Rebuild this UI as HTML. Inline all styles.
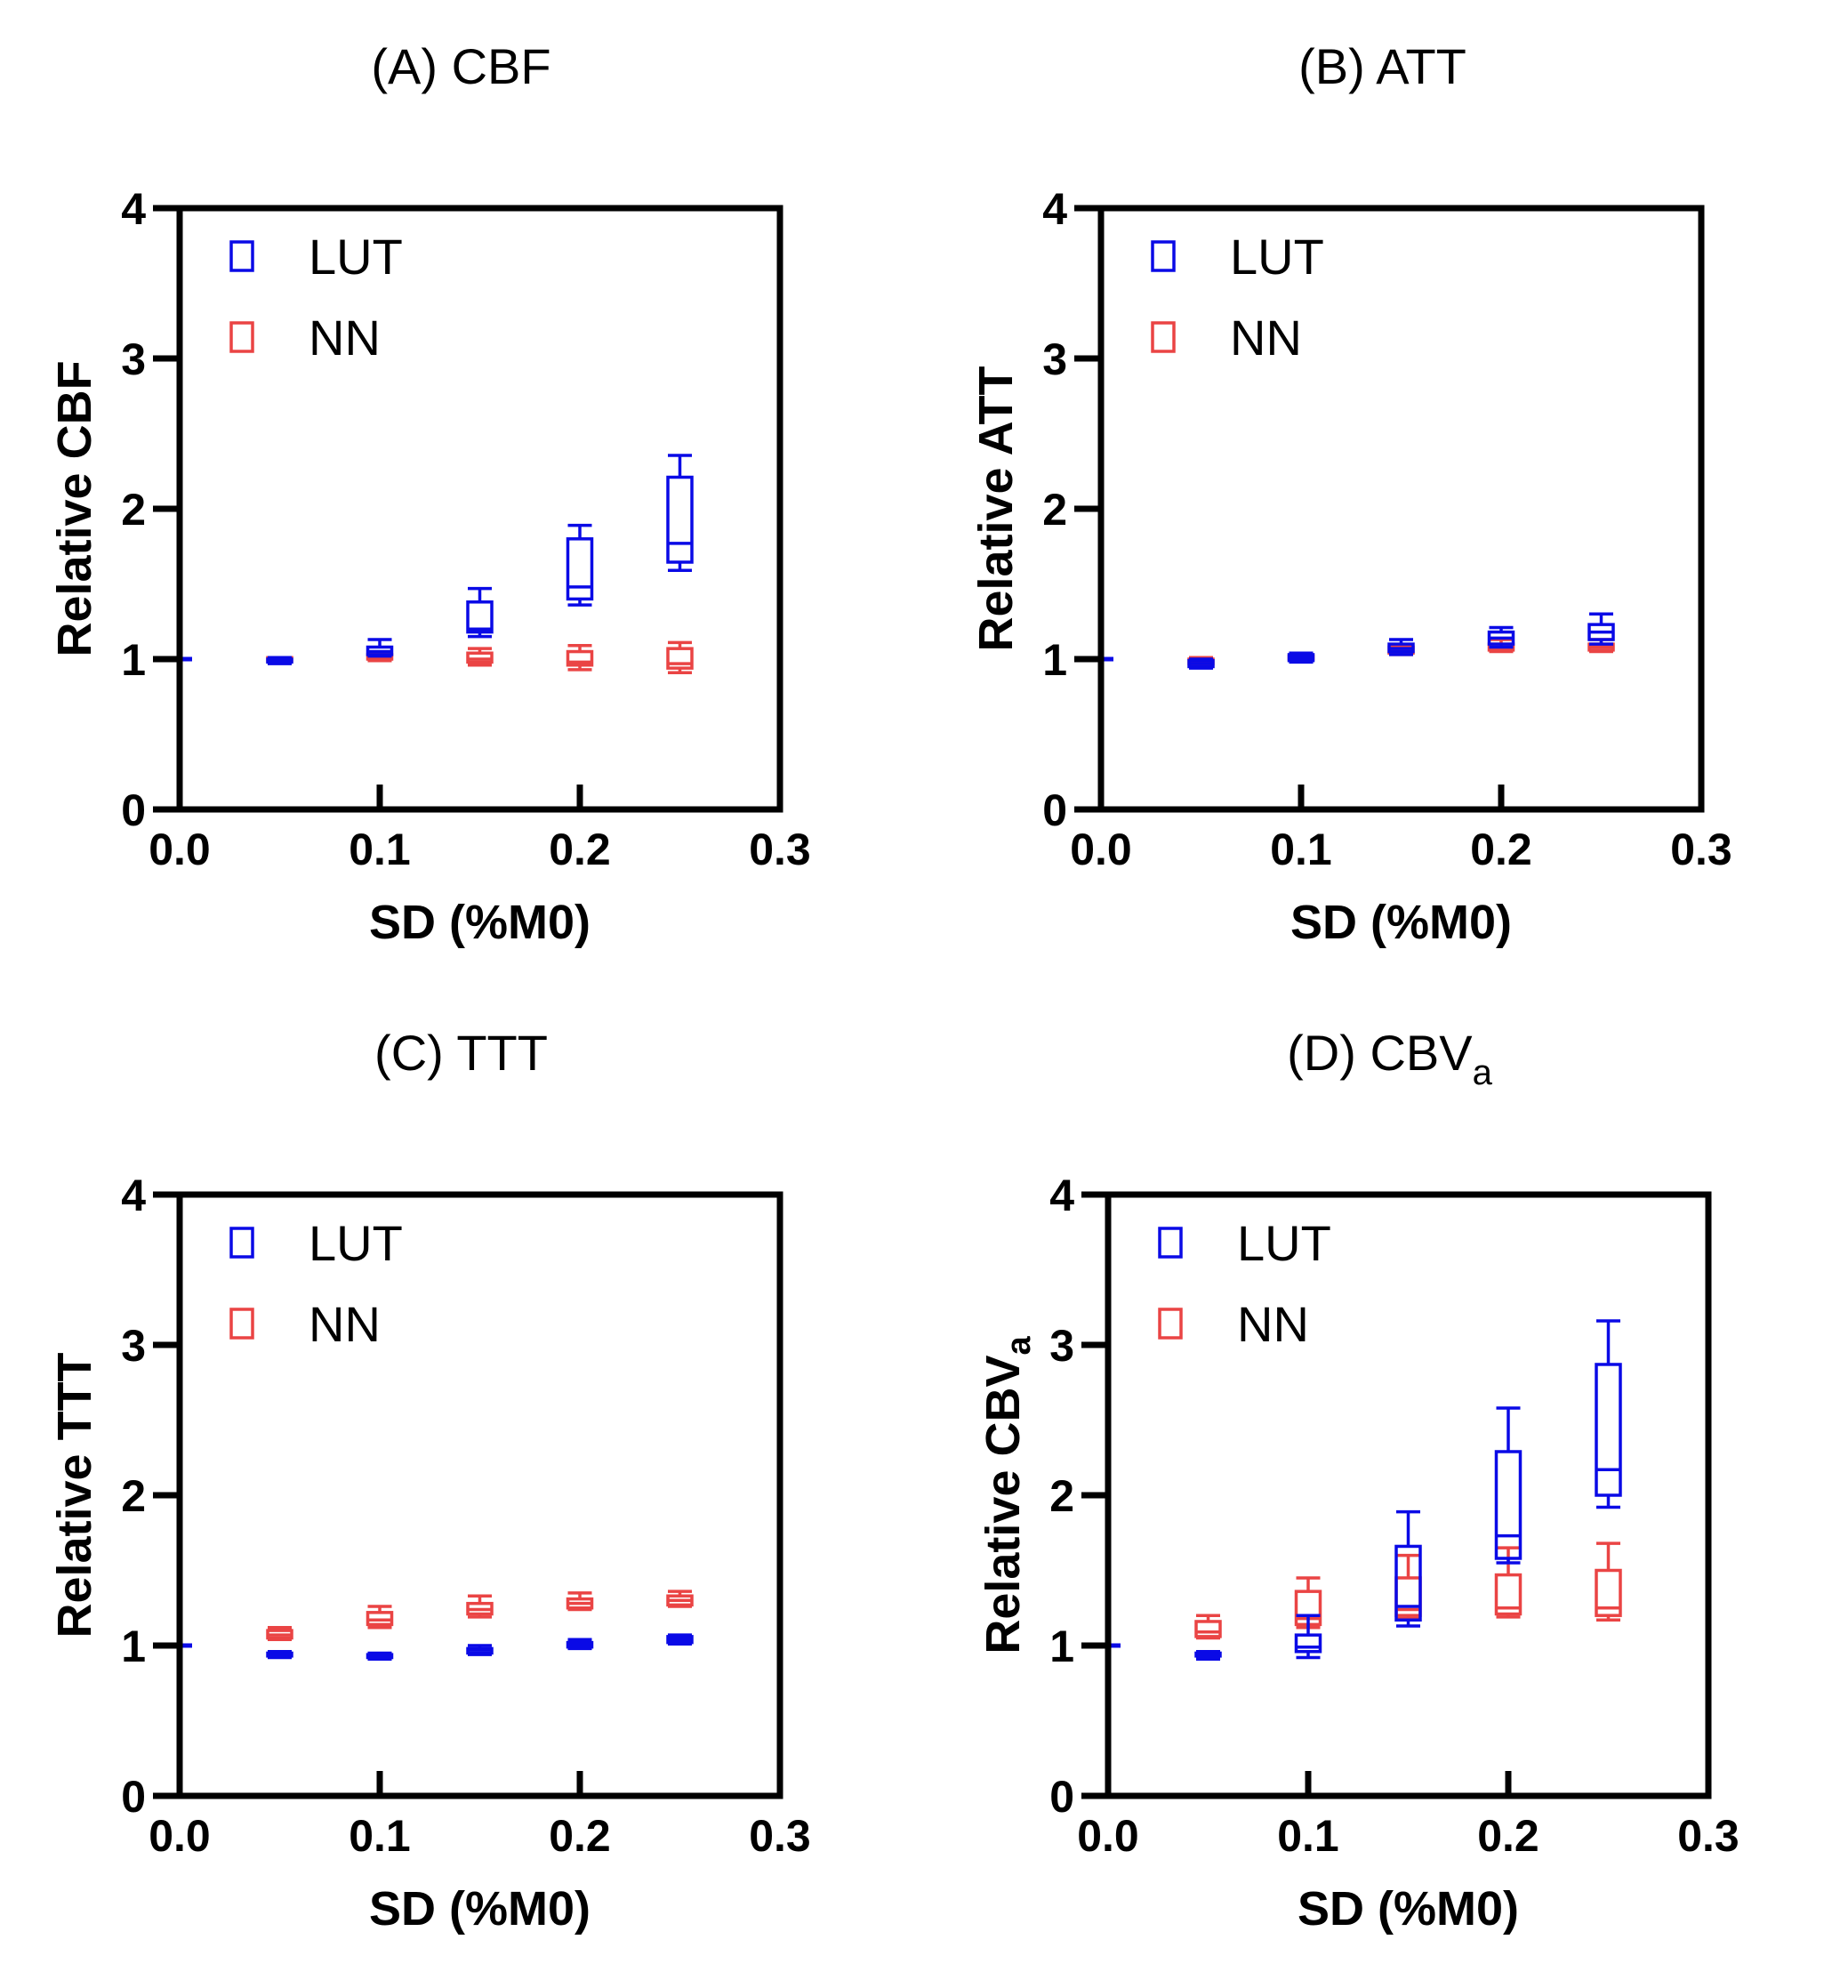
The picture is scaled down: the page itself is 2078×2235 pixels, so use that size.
<!DOCTYPE html>
<html><head><meta charset="utf-8"><style>
html,body{margin:0;padding:0;background:#fff;}
svg{display:block;font-family:"Liberation Sans",Arial,sans-serif;}
</style></head><body>
<svg id="fig" width="2078" height="2235" viewBox="0 0 2078 2235" xmlns="http://www.w3.org/2000/svg"></svg>
<script>
// x categories (SD %M0)
const xCats = [0.05, 0.10, 0.15, 0.20, 0.25];
const xTicks = ["0.0", "0.1", "0.2", "0.3"];
const yTicks = ["0", "1", "2", "3", "4"];
// [min, q1, median, q3, max]
const cbfLUT = [[0.97,0.98,0.99,1.0,1.01],[1.02,1.03,1.05,1.08,1.13],[1.15,1.18,1.2,1.38,1.47],[1.36,1.4,1.48,1.8,1.89],[1.59,1.645,1.77,2.21,2.355]];
const cbfNN  = [[0.99,0.99,1.0,1.01,1.01],[0.99,1.0,1.01,1.03,1.04],[0.96,0.98,1.0,1.04,1.07],[0.93,0.96,0.98,1.05,1.09],[0.91,0.94,0.97,1.07,1.11]];
const attLUT = [[0.94,0.95,0.97,0.99,1.0],[0.98,0.99,1.01,1.03,1.04],[1.03,1.05,1.07,1.1,1.13],[1.08,1.1,1.14,1.18,1.21],[1.1,1.13,1.18,1.23,1.3]];
const attNN  = [[0.96,0.97,0.98,1.0,1.01],[0.99,1.0,1.01,1.02,1.03],[1.03,1.04,1.06,1.08,1.09],[1.05,1.06,1.08,1.1,1.13],[1.05,1.06,1.08,1.1,1.13]];
const tttLUT = [[0.92,0.93,0.94,0.95,0.96],[0.91,0.92,0.93,0.94,0.95],[0.94,0.95,0.97,0.98,1.0],[0.98,0.99,1.01,1.02,1.04],[1.01,1.02,1.04,1.06,1.07]];
const tttNN  = [[1.04,1.05,1.07,1.1,1.12],[1.12,1.14,1.17,1.22,1.26],[1.19,1.21,1.24,1.28,1.33],[1.24,1.25,1.28,1.31,1.35],[1.26,1.27,1.3,1.33,1.36]];
const cbvLUT = [[0.91,0.93,0.94,0.95,0.96],[0.92,0.96,0.99,1.07,1.2],[1.13,1.17,1.26,1.66,1.89],[1.55,1.58,1.73,2.29,2.58],[1.92,2.0,2.17,2.87,3.16]];
const cbvNN  = [[1.05,1.06,1.09,1.16,1.2],[1.12,1.14,1.18,1.36,1.45],[1.18,1.2,1.24,1.45,1.6],[1.19,1.21,1.25,1.47,1.65],[1.17,1.2,1.25,1.5,1.68]];

const NS="http://www.w3.org/2000/svg";
const svg=document.getElementById('fig');
const BLUE="#0a0ae6", RED="#ea4444";
function el(tag,attrs,parent){const e=document.createElementNS(NS,tag);for(const k in attrs)e.setAttribute(k,attrs[k]);(parent||svg).appendChild(e);return e;}

const panels=[
 {id:'a',L:202,T:234,title:'(A) CBF',ylab:'Relative CBF',lut:cbfLUT,nn:cbfNN},
 {id:'b',L:1238,T:234,title:'(B) ATT',ylab:'Relative ATT',lut:attLUT,nn:attNN},
 {id:'c',L:202,T:1343,title:'(C) TTT',ylab:'Relative TTT',lut:tttLUT,nn:tttNN},
 {id:'d',L:1246,T:1343,title:'(D) CBV',ylab:'Relative CBV',sub:'a',lut:cbvLUT,nn:cbvNN}
];
const W=675,H=676;

panels.forEach(p=>{
 const g=el('g',{});
 
 
 const xs=v=>p.L+v/0.3*W;
 const ys=v=>p.T+H-v/4*H;
 // title
 const t=el('text',{x:p.L+W/2-21,y:p.T-140,'font-size':56,'text-anchor':'middle'},g);
 
 
 t.textContent=p.title;
 if(p.sub){const s=el('tspan',{'font-size':40,dy:16},t);s.textContent=p.sub;}
 // boxes
 [[p.nn,RED,'nn'],[p.lut,BLUE,'lut']].forEach(([data,col,nm])=>{
  data.forEach((d,i)=>{
   const cx=xs(xCats[i]),hw=13.5;
   const bg=el('g',{stroke:col,'stroke-width':3.5,fill:'none'},g);
   
   
   el('line',{x1:cx,x2:cx,y1:ys(d[4]),y2:ys(d[3])},bg);
   el('line',{x1:cx,x2:cx,y1:ys(d[1]),y2:ys(d[0])},bg);
   el('line',{x1:cx-hw,x2:cx+hw,y1:ys(d[4]),y2:ys(d[4])},bg);
   el('line',{x1:cx-hw,x2:cx+hw,y1:ys(d[0]),y2:ys(d[0])},bg);
   el('rect',{x:cx-hw,y:ys(d[3]),width:2*hw,height:Math.max(ys(d[1])-ys(d[3]),1)},bg);
   el('line',{x1:cx-hw,x2:cx+hw,y1:ys(d[2]),y2:ys(d[2])},bg);
  });
 });
 // baseline marker at x=0,y=1
 const bm=el('line',{x1:p.L,x2:p.L+14,y1:ys(1),y2:ys(1),stroke:BLUE,'stroke-width':5},g);
 
 
 // axes frame
 const fr=el('rect',{x:p.L,y:p.T,width:W,height:H,fill:'none',stroke:'#000','stroke-width':7},g);
 
 
 // y ticks
 yTicks.forEach((lab,i)=>{
  const y=ys(i);
  el('line',{x1:p.L-30,x2:p.L,y1:y,y2:y,stroke:'#000','stroke-width':7},g);
  const tx=el('text',{x:p.L-38,y:y+18,'font-size':50,'font-weight':'bold','text-anchor':'end'},g);
  
  
  tx.textContent=lab;
 });
 // x ticks
 xTicks.forEach((lab,i)=>{
  const x=xs(i*0.1);
  el('line',{x1:x,x2:x,y1:p.T+H,y2:p.T+H-28,stroke:'#000','stroke-width':7},g);
  const tx=el('text',{x:x,y:p.T+H+62,'font-size':50,'font-weight':'bold','text-anchor':'middle'},g);
  
  
  tx.textContent=lab;
 });
 // x title
 const xt=el('text',{x:p.L+W/2,y:p.T+H+145,'font-size':54,'font-weight':'bold','text-anchor':'middle'},g);
 
 
 xt.textContent='SD (%M0)';
 // y title
 const yx=p.L-100, yy=p.T+H/2;
 const yt=el('text',{x:yx,y:yy,'font-size':54,'font-weight':'bold','text-anchor':'middle',transform:`rotate(-90 ${yx} ${yy})`},g);
 
 
 yt.textContent=p.ylab;
 if(p.sub){const s=el('tspan',{'font-size':38,dy:12},yt);s.textContent=p.sub;}
 // legend
 [['LUT',BLUE,0],['NN',RED,1]].forEach(([lab,col,k])=>{
  const lg=el('g',{},g);
  
  
  const y0=p.T+38+k*91;
  el('rect',{x:p.L+58,y:y0,width:24,height:32,fill:'none',stroke:col,'stroke-width':3.5},lg);
  const lt=el('text',{x:p.L+145,y:y0+36,'font-size':56},lg);
  lt.textContent=lab;
 });
});
</script>
</body></html>
